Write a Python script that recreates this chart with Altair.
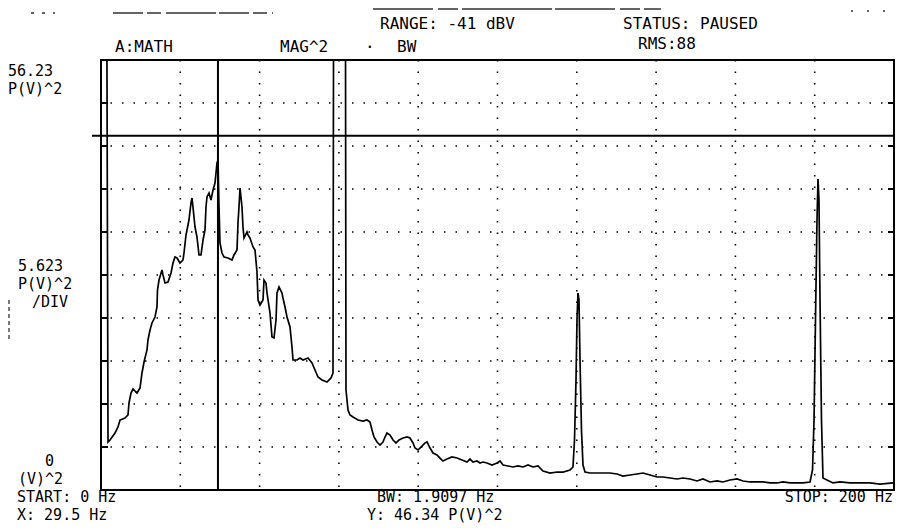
import altair as alt
import pandas as pd

# ---- trace (frequency in Hz, power in P(V)^2) ----
freq_hz = [0.0, 1.5, 1.77, 2.27, 3.53, 4.29, 4.79, 6.05, 6.81, 7.06, 7.57, 8.07, 9.08, 9.84,
           10.34, 10.85, 11.60, 11.85, 12.36, 12.86, 13.62, 14.12, 14.25, 14.63, 15.38, 15.64,
           16.14, 16.90, 17.65, 18.16, 18.66, 19.17, 19.92, 20.68, 20.93, 21.44, 21.69, 22.19,
           22.70, 22.95, 23.20, 23.71, 24.21, 24.72, 25.22, 25.73, 26.23, 26.48, 26.73, 27.24,
           27.74, 28.25, 28.75, 29.26, 29.51, 29.76, 30.01, 30.52, 31.02, 32.03, 33.04, 33.54,
           34.30, 34.55, 34.80, 35.06, 35.56, 35.81, 36.07, 36.82, 37.07, 37.58, 38.34, 38.84,
           39.34, 39.60, 40.10, 40.86, 41.11, 41.61, 41.87, 42.62, 43.13, 43.63, 44.14, 44.39,
           44.89, 45.65, 45.90, 46.41, 46.91, 47.67, 48.17, 48.42, 49.43, 50.19, 50.95, 52.21,
           53.22, 53.97, 54.73, 55.74, 57.00, 58.01, 58.51, 58.64, 61.67, 61.79, 62.30, 62.80,
           63.56, 64.82, 66.08, 67.09, 67.84, 68.35, 68.85, 69.61, 70.37, 71.12, 71.63, 72.13,
           72.89, 73.65, 74.40, 75.16, 76.17, 77.18, 77.93, 78.69, 79.19, 79.95, 80.96, 81.72,
           82.22, 82.98, 83.73, 84.74, 85.50, 86.26, 87.26, 88.53, 89.79, 91.05, 92.31, 93.07,
           93.82, 94.83, 95.59, 96.34, 97.35, 98.61, 99.88, 100.63, 101.39, 102.65, 103.91,
           105.17, 106.43, 107.69, 108.96, 110.22, 111.48, 113.24, 115.01, 116.52, 118.29,
           119.04, 119.42, 119.80, 120.05, 120.30, 120.55, 120.81, 121.18, 121.56, 122.07,
           123.33, 125.10, 126.61, 128.37, 130.14, 131.65, 133.42, 135.18, 136.70, 138.46,
           140.23, 141.74, 143.51, 145.27, 146.79, 148.55, 150.32, 151.83, 153.60, 155.36,
           156.87, 158.64, 160.41, 161.92, 163.68, 165.45, 166.96, 168.73, 170.49, 172.01,
           173.77, 175.54, 177.05, 178.82, 179.45, 179.83, 180.20, 180.58, 180.83, 181.08,
           181.34, 181.71, 182.09, 183.10, 184.61, 186.38, 188.90, 191.42, 193.94, 196.47, 199.75]
power = [90.0, 90.0, 6.28, 6.54, 7.45, 8.24, 9.15, 9.42, 9.81, 11.38, 12.68, 13.21, 12.68, 13.34,
         15.30, 16.74, 18.31, 19.62, 20.92, 21.84, 22.62, 23.93, 26.15, 27.46, 28.77, 28.12,
         27.07, 27.20, 28.38, 29.68, 30.47, 30.34, 29.68, 30.08, 30.99, 33.35, 34.00, 35.31,
         37.53, 38.18, 37.01, 34.39, 33.08, 30.73, 30.73, 32.69, 34.00, 37.01, 38.32, 38.84,
         37.92, 39.23, 40.15, 42.76, 43.15, 37.01, 32.30, 30.99, 30.47, 30.34, 30.08, 30.73,
         31.38, 34.92, 37.01, 39.49, 37.01, 34.39, 32.95, 33.74, 33.35, 32.95, 31.78, 31.38,
         28.51, 24.85, 24.19, 24.85, 27.46, 27.07, 25.76, 23.15, 20.01, 19.88, 22.23, 25.76,
         26.55, 25.76, 25.11, 23.93, 22.62, 21.32, 18.70, 17.00, 17.00, 17.26, 17.00, 17.26,
         16.61, 15.69, 14.78, 14.38, 14.12, 14.65, 15.30, 90.0, 90.0, 13.08, 10.46, 9.81,
         9.55, 9.15, 9.02, 9.15, 8.89, 7.85, 6.93, 6.28, 5.88, 6.28, 6.93, 7.45,
         7.19, 6.54, 6.15, 6.54, 6.80, 6.93, 6.80, 6.15, 5.49, 5.23, 5.75, 6.15,
         6.28, 5.49, 4.84, 4.58, 4.18, 3.79, 4.05, 4.32, 4.18, 3.92, 3.66, 4.05,
         3.66, 3.79, 3.53, 3.66, 3.53, 3.27, 3.53, 3.79, 3.27, 3.14, 3.01,
         3.14, 3.01, 3.27, 3.01, 3.14, 2.48, 2.22, 2.35, 2.35, 2.62,
         3.01, 6.54, 14.38, 22.23, 25.76, 24.85, 17.00, 7.85, 3.27, 2.35,
         2.22, 2.22, 2.22, 2.22, 2.09, 1.83, 1.96, 2.09, 2.22, 1.96,
         1.70, 1.70, 1.57, 1.44, 1.57, 1.44, 1.18, 1.44, 1.05, 1.18,
         1.05, 1.31, 1.44, 1.18, 1.05, 1.05, 1.05, 0.92, 0.92, 1.05,
         0.92, 0.92, 0.92, 1.05, 2.62, 9.15, 22.23, 35.31, 40.67, 37.92,
         24.85, 9.15, 1.57, 1.31, 0.92, 1.05, 0.92, 0.92, 0.92, 0.78, 0.92]

grid_freq = [20, 40, 60, 80, 100, 120, 140, 160, 180]
grid_power = [5.623, 11.246, 16.869, 22.492, 28.115, 33.738, 39.361, 44.984, 50.607]
marker_freq = [29.5]
marker_power = [46.34]
x_domain = [0, 200]
y_domain = [0, 56.23]

W, H = 793, 430
FONT = "DejaVu Sans Mono"

xs = alt.Scale(domain=x_domain, nice=False, zero=False)
ys = alt.Scale(domain=y_domain, nice=False, zero=False, clamp=True)

trace = alt.Chart(pd.DataFrame({"f": freq_hz, "p": power})).mark_line(
    color="black", strokeWidth=1.7, clip=True
).encode(
    x=alt.X("f:Q", scale=xs, axis=None),
    y=alt.Y("p:Q", scale=ys, axis=None),
)

hgrid = alt.Chart(pd.DataFrame({"p": grid_power})).mark_rule(
    color="black", strokeWidth=1.6, strokeDash=[1.5, 10]
).encode(y=alt.Y("p:Q", scale=ys, axis=None))

vgrid = alt.Chart(pd.DataFrame({"f": grid_freq})).mark_rule(
    color="black", strokeWidth=1.6, strokeDash=[1.5, 10]
).encode(x=alt.X("f:Q", scale=xs, axis=None))

lticks = alt.Chart(pd.DataFrame({"p": grid_power})).mark_rule(
    color="black", strokeWidth=2
).encode(y=alt.Y("p:Q", scale=ys, axis=None), x=alt.value(0), x2=alt.value(7))

rticks = alt.Chart(pd.DataFrame({"p": grid_power})).mark_rule(
    color="black", strokeWidth=2
).encode(y=alt.Y("p:Q", scale=ys, axis=None), x=alt.value(W - 6), x2=alt.value(W))

vmark = alt.Chart(pd.DataFrame({"f": marker_freq})).mark_rule(
    color="black", strokeWidth=2
).encode(x=alt.X("f:Q", scale=xs, axis=None))

hmark = alt.Chart(pd.DataFrame({"p": marker_power})).mark_rule(
    color="black", strokeWidth=2
).encode(y=alt.Y("p:Q", scale=ys, axis=None), x=alt.value(-9), x2=alt.value(W))


def label(txt, x, y, size=15, align="left"):
    return alt.Chart(pd.DataFrame({"t": [txt]})).mark_text(
        align=align, baseline="alphabetic", font=FONT, fontSize=size, color="black"
    ).encode(text="t:N", x=alt.value(x), y=alt.value(y))


def artifact(x1, x2, y, dash):
    return alt.Chart(pd.DataFrame({"a": [0]})).mark_rule(
        color="#333", strokeWidth=1.3, strokeDash=dash
    ).encode(x=alt.value(x1), x2=alt.value(x2), y=alt.value(y))


def vartifact(x, y1, y2):
    return alt.Chart(pd.DataFrame({"a": [0]})).mark_rule(
        color="#333", strokeWidth=1.3, strokeDash=[4, 3]
    ).encode(x=alt.value(x), y=alt.value(y1), y2=alt.value(y2))


texts = [
    label("RANGE: -41 dBV", 279, -31, 16),
    label("STATUS: PAUSED", 522, -31, 16),
    label("A:MATH", 14, -8, 16),
    label("MAG^2", 179, -8, 16),
    label("·", 264, -8, 16),
    label("BW", 296, -8, 16),
    label("RMS:88", 537, -11, 16),
    label("56.23", -93, 16),
    label("P(V)^2", -93, 34),
    label("5.623", -83, 211),
    label("P(V)^2", -83, 229),
    label("/DIV", -69, 247),
    label("0", -56, 406),
    label("(V)^2", -83, 424),
    label("START: 0 Hz", -84, 442),
    label("X: 29.5 Hz", -84, 460),
    label("BW: 1.9097 Hz", 276, 442),
    label("Y: 46.34 P(V)^2", 266, 460),
    label("STOP: 200 Hz", W - 1, 442, 15, "right"),
]

artifacts = [
    artifact(-70, -46, -47, [3, 8]),
    artifact(12, 172, -47, [30, 4, 14, 5, 50, 3]),
    artifact(272, 560, -51, [60, 5, 20, 4, 90, 3]),
    artifact(750, 790, -49, [2, 14]),
    vartifact(-92, 240, 282),
]

chart = alt.layer(
    vgrid, hgrid, lticks, rticks, vmark, hmark, trace, *texts, *artifacts
).properties(
    width=W,
    height=H,
    autosize=alt.AutoSizeParams(type="none"),
    padding={"left": 93, "top": 52, "right": 3, "bottom": 34},
).configure_view(stroke="black", strokeWidth=2)

chart.save("out.html", embed_options={"renderer": "svg", "actions": False})
